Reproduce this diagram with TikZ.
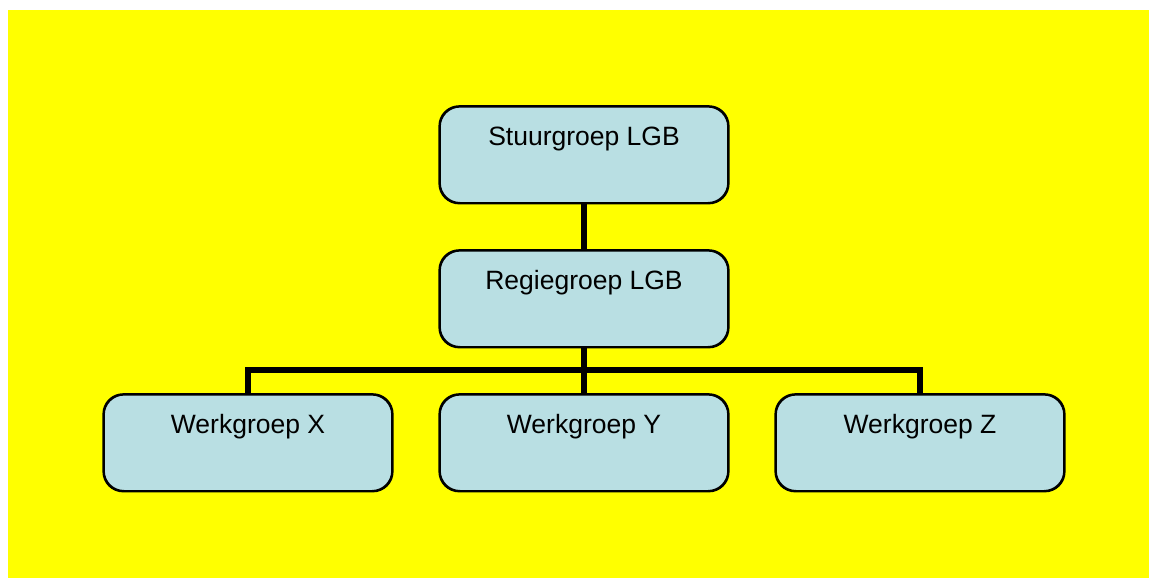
\documentclass[tikz,border=0pt]{standalone}
\usepackage{fontspec}
\setmainfont{Liberation Sans}
\definecolor{panel}{RGB}{255,255,0}
\definecolor{boxfill}{RGB}{185,223,227}
\begin{document}
\begin{tikzpicture}[x=1pt,y=-1pt,
  orgbox/.style={draw=black, line width=1.6pt, fill=boxfill, rounded corners=20pt,
    minimum width=288pt, inner sep=0pt, text height=39pt, text depth=57pt,
    font=\fontsize{26.5}{30}\selectfont},
  link/.style={line width=6pt}]
  \useasboundingbox (0,0) rectangle (1149,578);
  \fill[white] (0,0) rectangle (1149,578);
  \fill[panel] (8,10) rectangle (1149,578);

  \node[orgbox, anchor=north] (stuur) at (584,106) {Stuurgroep LGB};
  \node[orgbox, anchor=north] (regie) at (584,250) {Regiegroep LGB};
  \node[orgbox, anchor=north] (wx) at (248,394) {Werkgroep X};
  \node[orgbox, anchor=north] (wy) at (584,394) {Werkgroep Y};
  \node[orgbox, anchor=north] (wz) at (920,394) {Werkgroep Z};

  % tree connectors
  \coordinate (bus) at (584,370);
  \draw[link] (stuur.south) -- (regie.north);
  \draw[link] (regie.south) -- (bus);
  \draw[link, line join=miter] (wx.north) |- (bus) -| (wz.north);
  \draw[link] (bus) -- (wy.north);
  % redraw box outlines over the connector ends
  \foreach \n in {stuur,regie,wx,wy,wz}{
    \draw[line width=1.6pt, rounded corners=20pt] (\n.north west) rectangle (\n.south east);
  }
\end{tikzpicture}
\end{document}
